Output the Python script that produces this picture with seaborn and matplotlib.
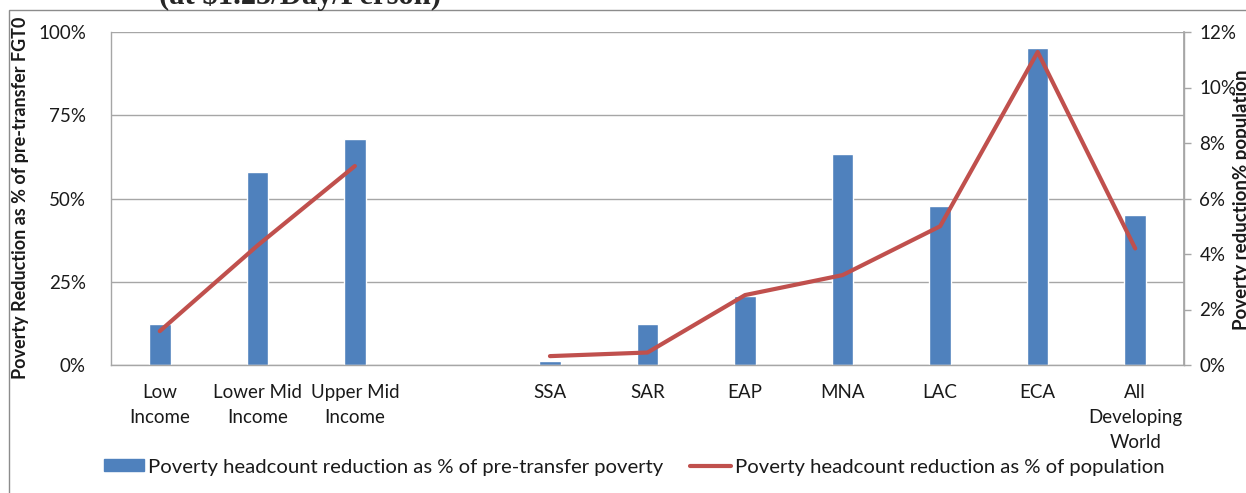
import matplotlib
matplotlib.use("Agg")
import matplotlib.pyplot as plt
import seaborn as sns
import pandas as pd
import numpy as np
from matplotlib.patches import Rectangle, Patch
from matplotlib.lines import Line2D
from matplotlib.ticker import PercentFormatter

categories = ["Low\nIncome", "Lower Mid\nIncome", "Upper Mid\nIncome", " ",
              "SSA", "SAR", "EAP", "MNA", "LAC", "ECA", "All\nDeveloping\nWorld"]
pct_pretransfer = [12.3, 58.0, 67.9, np.nan, 1.3, 12.4, 20.7, 63.5, 47.8, 95.2, 45.0]
pct_population = [1.22, 4.3, 7.17, np.nan, 0.32, 0.45, 2.52, 3.24, 5.0, 11.28, 4.2]

bar_label = "Poverty headcount reduction as % of pre-transfer poverty"
line_label = "Poverty headcount reduction as % of population"

sns.set_theme(style="white")
plt.rcParams['font.family'] = ['Lato', 'DejaVu Sans']

BLUE = "#4F81BD"
RED = "#C0504D"
GRID = "#A6A6A6"
TXT = "#1a1a1a"

fig = plt.figure(figsize=(12.46, 4.93), dpi=100)
ax = fig.add_axes([111/1246, 1-365/493, (1184-111)/1246, (365-32)/493])

df = pd.DataFrame({"cat": categories, "val": pct_pretransfer})
sns.barplot(data=df, x="cat", y="val", order=categories, color=BLUE,
            width=0.22, saturation=1, ax=ax)
ax.set_ylim(0, 100)
ax.set_xlim(-0.5, len(categories) - 0.5)
ax.set_yticks([0, 25, 50, 75, 100])
ax.yaxis.set_major_formatter(PercentFormatter(decimals=0))
ax.yaxis.grid(True, color=GRID, linewidth=1)
ax.set_axisbelow(True)
ax.set_xlabel("")
ax.set_ylabel("")
ax.tick_params(axis="x", length=0, labelsize=13.5, pad=14, colors=TXT)
ax.tick_params(axis="y", length=0, labelsize=13.5, pad=18, colors=TXT)
for t in ax.get_xticklabels():
    t.set_linespacing(1.55)
for s in ["left", "bottom", "right"]:
    ax.spines[s].set_color(GRID)
    ax.spines[s].set_linewidth(1)
ax.spines["top"].set_visible(False)

ax2 = ax.twinx()
ldf = pd.DataFrame({"x": np.arange(len(categories)), "y": pct_population})
seg1 = ldf.iloc[0:3]
seg2 = ldf.iloc[4:]
for seg in (seg1, seg2):
    sns.lineplot(data=seg, x="x", y="y", color=RED, linewidth=3, ax=ax2,
                 estimator=None, sort=False)
ax2.set_ylim(0, 12)
ax2.set_yticks(np.arange(0, 13, 2))
ax2.yaxis.set_major_formatter(PercentFormatter(decimals=0))
ax2.set_ylabel("")
ax2.set_xlabel("")
ax2.tick_params(axis="y", direction="out", length=5, width=1, color=GRID,
                labelsize=13.5, pad=6, labelcolor=TXT)
for s in ["left", "bottom", "top"]:
    ax2.spines[s].set_visible(False)
ax2.spines["right"].set_color(GRID)
ax2.set_xlim(-0.5, len(categories) - 0.5)

fig.text(21/1246, 1-198/493, "Poverty Reduction as % of pre-transfer FGT0",
         rotation=90, fontsize=13, fontweight="bold", ha="center", va="center",
         color=TXT)
fig.text(1241/1246, 1-200/493, "Poverty reduction% population", rotation=90,
         fontsize=13.5, fontweight="bold", ha="center", va="center", color=TXT)

# outer frame
fig.patches.append(Rectangle((9/1246, -0.1), 1.2, 1-10/493+0.1,
                             transform=fig.transFigure, fill=False,
                             edgecolor="#8C8C8C", linewidth=1))

# clipped title
fig.text(300/1246, 1+4/493, "(at $1.25/Day/Person)", family="Liberation Serif",
         fontsize=22, fontweight="bold", ha="center", va="center")

handles = [Patch(facecolor=BLUE, edgecolor=BLUE, label=bar_label),
           Line2D([0], [0], color=RED, linewidth=3, label=line_label)]
fig.legend(handles=handles, loc="center", bbox_to_anchor=(634/1246, 1-467/493),
           ncol=2, frameon=False, fontsize=14.6, handlelength=2.0,
           handleheight=0.55, columnspacing=1.3, handletextpad=0.2,
           labelcolor=TXT)

fig.savefig("out.png", dpi=100)
